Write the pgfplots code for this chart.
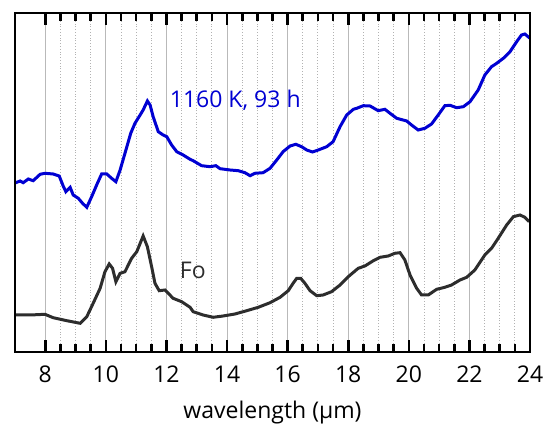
\documentclass[border=0pt]{standalone}
\usepackage{fontspec}
\setmainfont{Open Sans}
\usepackage{pgfplots}
\pgfplotsset{compat=1.18}
\definecolor{specblue}{RGB}{0,0,210}
\definecolor{specblack}{RGB}{45,45,45}
\pgfplotsset{
  specframe/.style={
    scale only axis,width=257.5pt,height=169.5pt,
    xmin=7,xmax=24,ymin=0,ymax=339,
    xtick={8,10,...,24},minor x tick num=3,
    ytick=\empty,
  }
}

\begin{document}
\fontsize{11.5}{13}\selectfont
\begin{tikzpicture}
\useasboundingbox (-7.5pt,-37.5pt) rectangle (266pt,176pt);
\begin{axis}[
  specframe,
  major tick length=0pt,minor tick length=0pt,
  axis line style={black,line width=0.8pt},
  grid=both,
  major grid style={gray!55,line width=0.5pt},
  minor grid style={gray!60,densely dotted,line width=0.45pt},
  xticklabel style={font=\fontsize{11.5}{13}\selectfont,yshift=-3pt},
  /pgf/number format/assume math mode=true,
  xlabel={wavelength (μm)},
  xlabel style={font=\fontsize{11.5}{13}\selectfont,yshift=-1pt},
  clip=false
]
\addplot[specblue,line width=1.5pt] coordinates {
 (7.00,169) (7.17,171) (7.27,169.3) (7.44,173) (7.60,171.3) (7.83,177.7)
 (7.99,178.7) (8.26,178) (8.46,176) (8.59,166) (8.68,160.3) (8.82,164.7)
 (8.92,157) (9.09,153.7) (9.23,148.7) (9.37,144.7) (9.53,155.3) (9.72,168.7)
 (9.86,178) (10.03,178) (10.19,173.7) (10.33,170.3) (10.47,182) (10.63,198.7)
 (10.82,218.7) (10.96,228.7) (11.13,237) (11.23,242) (11.37,251) (11.46,247)
 (11.56,235.3) (11.73,220.3) (11.89,217) (12.01,215.3) (12.17,207) (12.34,200.3)
 (12.55,197) (12.78,192.7) (12.88,191.3) (13.16,186.3) (13.44,185.3) (13.63,186.3)
 (13.77,183.3) (14.10,182) (14.37,181.3) (14.59,179.3) (14.76,176.3) (14.92,178.7)
 (15.19,179.3) (15.42,183.7) (15.64,192) (15.85,200.3) (16.08,206) (16.27,207.7)
 (16.46,205.3) (16.63,202) (16.82,200) (17.01,202) (17.29,205.3) (17.50,210.3)
 (17.73,225.3) (17.95,237) (18.17,242.7) (18.28,243.7) (18.50,246.3) (18.72,246)
 (18.99,241.3) (19.21,242.7) (19.38,238.7) (19.60,233.7) (19.93,231) (20.09,227)
 (20.31,222) (20.53,223.7) (20.75,228) (20.97,237) (21.19,246.3) (21.36,246.7)
 (21.58,244.3) (21.80,245.3) (22.02,250.3) (22.29,262) (22.51,277) (22.73,285.3)
 (22.90,288.7) (23.12,293.7) (23.34,300.3) (23.56,310.3) (23.72,317) (23.83,318)
 (24.00,313.7)
};
\addplot[specblack,line width=1.5pt] coordinates {
 (7.00,37) (7.50,37) (7.99,37.7) (8.26,34.3) (8.71,31.3) (9.15,28.7)
 (9.37,35.3) (9.58,48.7) (9.81,63.7) (9.97,80.3) (10.11,88) (10.22,83.7)
 (10.33,70.3) (10.47,78.7) (10.63,80.3) (10.85,93.7) (11.02,100.3) (11.23,116)
 (11.37,105.3) (11.51,85.3) (11.62,68.7) (11.76,61.3) (11.95,62) (12.22,53.7)
 (12.50,50.3) (12.78,44.7) (12.88,40.3) (13.21,37) (13.54,34.7) (13.87,36)
 (14.26,38) (14.65,41.3) (15.03,44.7) (15.42,49.3) (15.75,54.7) (16.02,61.3)
 (16.18,68.7) (16.30,73.7) (16.43,73.7) (16.57,68.7) (16.74,61.3) (16.96,56.3)
 (17.17,57) (17.45,60.3) (17.73,67) (18.00,75.3) (18.33,83.7) (18.55,86)
 (18.83,91.3) (19.05,94.7) (19.32,96) (19.54,98.7) (19.71,99.3) (19.87,92)
 (20.04,77) (20.26,63.7) (20.42,57) (20.64,57) (20.92,62.7) (21.19,64.7)
 (21.41,67) (21.69,72) (21.91,74.7) (22.18,82) (22.51,97) (22.73,103.7)
 (22.95,113.7) (23.23,127) (23.45,135.3) (23.67,137) (23.83,134.7) (23.97,130.3)
};
\node[specblue,anchor=west,inner sep=0pt] at (axis cs:12.1,252) {1160 K, 93 h};
\node[specblack] at (axis cs:12.87,82) {Fo};
\end{axis}
% tick marks only, drawn over the grid
\begin{axis}[
  specframe,
  xticklabels={},
  tick align=inside,
  major tick length=6pt,minor tick length=4pt,
  every tick/.append style={black,line width=1.3pt},
  axis line style={black,line width=0.8pt},
]
\addplot[draw=none] coordinates {(7,0) (24,339)};
\end{axis}
\end{tikzpicture}
\end{document}
